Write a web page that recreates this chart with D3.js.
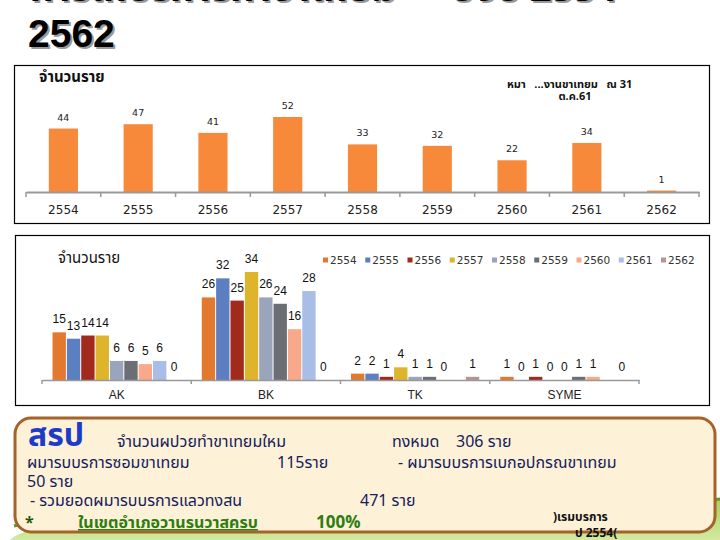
<!DOCTYPE html>
<html>
<head>
<meta charset="utf-8">
<script src="https://cdn.jsdelivr.net/npm/d3@7"></script>
<style>
  body { margin: 0; background: #fff; }
  svg { display: block; }
  .thai { font-family: "Noto Sans Thai", "Tahoma", "Noto Sans", sans-serif; }
</style>
</head>
<body>
<script>
// data
var years = ["2554", "2555", "2556", "2557", "2558", "2559", "2560", "2561", "2562"];
var totalByYear = [44, 47, 41, 52, 33, 32, 22, 34, 1];

var regions = ["AK", "BK", "TK", "SYME"];
var akValues = [15, 13, 14, 14, 6, 6, 5, 6, 0];
var bkValues = [26, 32, 25, 34, 26, 24, 16, 28, 0];
var tkValues = [2, 2, 1, 4, 1, 1, 0, null, 1];
var symeValues = [1, 0, 1, 0, 0, 1, 1, null, 0];
var yearColors = ["#E3782F", "#5B7FC1", "#A12A1C", "#DDB42A", "#9AA5BC",
                  "#6B6F75", "#F9A98B", "#A8BEE6", "#B79494"];

var width = 720, height = 540;

var svg = d3.select("body").append("svg")
    .attr("width", width)
    .attr("height", height);

// bottom green swoosh
var grad = svg.append("defs").append("linearGradient")
    .attr("id", "grn").attr("x1", 0).attr("x2", 0).attr("y1", 0).attr("y2", 1);
grad.append("stop").attr("offset", "0%").attr("stop-color", "#A6CF5A");
grad.append("stop").attr("offset", "100%").attr("stop-color", "#D3EAA0");

svg.append("path")
    .attr("d", "M10,540 C30,522 120,514 360,514 C520,514 650,506 720,498 L720,540 Z")
    .attr("fill", "url(#grn)");
svg.append("path")
    .attr("d", "M14,526 C60,514 160,512 360,514 C520,515 650,507 720,499")
    .attr("fill", "none").attr("stroke", "#5E9A22").attr("stroke-width", 3);

// title (top line is cut by the slide edge)
function shadowText(x, y, txt, size) {
  [["#9a9a9a", 2], ["#000", 0]].forEach(function(s) {
    svg.append("text")
        .attr("class", "thai")
        .attr("x", x + s[1]).attr("y", y + s[1])
        .attr("font-size", size).attr("font-weight", "bold")
        .attr("fill", s[0])
        .text(txt);
  });
}
shadowText(30, 1, "การใหบรการทำขาเทยม", 38);
shadowText(450, 1, "ปงบ 2554 -", 38);
[["#9a9a9a", 2], ["#000", 0]].forEach(function(s) {
  svg.append("text")
      .attr("x", 28 + s[1]).attr("y", 47 + s[1])
      .attr("font-family", "Liberation Sans, Arial, sans-serif")
      .attr("font-size", 39).attr("font-weight", "bold")
      .attr("fill", s[0])
      .text("2562");
});

// ---------- chart 1: total per year ----------
svg.append("rect")
    .attr("x", 14.5).attr("y", 65.5).attr("width", 695).attr("height", 158)
    .attr("fill", "#fff").attr("stroke", "#000").attr("stroke-width", 1.2);

var x1 = d3.scaleBand()
    .domain(years)
    .range([26, 699])
    .paddingInner(0.61)
    .paddingOuter(0.305);

var y1 = d3.scaleLinear()
    .domain([0, d3.max(totalByYear)])
    .range([192, 117]);

var g1 = svg.append("g");

g1.selectAll(".bar1")
    .data(totalByYear)
  .enter().append("rect")
    .attr("class", "bar1")
    .attr("x", function(d, i) { return x1(years[i]); })
    .attr("y", function(d) { return y1(d); })
    .attr("width", x1.bandwidth())
    .attr("height", function(d) { return y1(0) - y1(d); })
    .attr("fill", "#F7893B");

g1.selectAll(".lab1")
    .data(totalByYear)
  .enter().append("text")
    .attr("class", "lab1")
    .attr("x", function(d, i) { return x1(years[i]) + x1.bandwidth() / 2; })
    .attr("y", function(d) { return y1(d) - 8; })
    .attr("text-anchor", "middle")
    .attr("font-family", "DejaVu Sans, sans-serif")
    .attr("font-size", 9.5)
    .attr("fill", "#222")
    .text(function(d) { return d; });

// axis with ticks on band edges
var axis1 = g1.append("g")
    .attr("transform", "translate(0," + y1(0) + ")")
    .call(d3.axisBottom(x1).tickSize(0).tickPadding(13));
axis1.select(".domain").attr("stroke", "#999").attr("stroke-width", 2);
axis1.selectAll("text")
    .attr("font-family", "DejaVu Sans, sans-serif")
    .attr("font-size", 12)
    .attr("fill", "#222");
var edges1 = years.map(function(d) { return x1(d) - x1.step() * x1.paddingInner() / 2; });
edges1.push(x1.range()[1]);
axis1.selectAll(".edge")
    .data(edges1)
  .enter().append("line")
    .attr("x1", function(d) { return d; }).attr("x2", function(d) { return d; })
    .attr("y1", 0).attr("y2", 5)
    .attr("stroke", "#999").attr("stroke-width", 1.5);

svg.append("text")
    .attr("class", "thai")
    .attr("x", 39).attr("y", 82)
    .attr("font-size", 15).attr("font-weight", "bold")
    .attr("fill", "#111")
    .text("จำนวนราย");

svg.append("text")
    .attr("class", "thai")
    .attr("x", 507).attr("y", 88)
    .attr("font-size", 11).attr("font-weight", "bold")
    .attr("fill", "#111")
    .attr("xml:space", "preserve")
    .text("หมา   ...งานขาเทยม   ณ 31");
svg.append("text")
    .attr("class", "thai")
    .attr("x", 575).attr("y", 100)
    .attr("text-anchor", "middle")
    .attr("font-size", 11).attr("font-weight", "bold")
    .attr("fill", "#111")
    .text("ต.ค.61");

// ---------- chart 2: per area per year ----------
svg.append("rect")
    .attr("x", 15.5).attr("y", 235.5).attr("width", 694).attr("height", 170)
    .attr("fill", "#fff").attr("stroke", "#000").attr("stroke-width", 1.2);

var regionValues = [akValues, bkValues, tkValues, symeValues];

var x0 = d3.scaleBand()
    .domain(regions)
    .range([42, 639])
    .paddingInner(0.141)
    .paddingOuter(0.0705);

var xs = d3.scaleBand()
    .domain(years)
    .range([0, x0.bandwidth()])
    .paddingInner(0.07);

var y2 = d3.scaleLinear()
    .domain([0, 34])
    .range([380, 272]);

var g2 = svg.append("g");

var groups = g2.selectAll(".grp")
    .data(regions)
  .enter().append("g")
    .attr("class", "grp")
    .attr("transform", function(d) { return "translate(" + x0(d) + ",0)"; });

groups.selectAll("rect")
    .data(function(d, i) {
      return regionValues[i].map(function(v, j) { return {year: years[j], v: v, c: yearColors[j]}; })
        .filter(function(o) { return o.v !== null; });
    })
  .enter().append("rect")
    .attr("x", function(o) { return xs(o.year); })
    .attr("y", function(o) { return y2(o.v); })
    .attr("width", xs.bandwidth())
    .attr("height", function(o) { return y2(0) - y2(o.v); })
    .attr("fill", function(o) { return o.c; });

groups.selectAll("text")
    .data(function(d, i) {
      return regionValues[i].map(function(v, j) { return {year: years[j], v: v}; })
        .filter(function(o) { return o.v !== null; });
    })
  .enter().append("text")
    .attr("x", function(o) { return xs(o.year) + xs.bandwidth() / 2; })
    .attr("y", function(o) { return y2(o.v) - 9; })
    .attr("text-anchor", "middle")
    .attr("font-family", "Liberation Sans, Arial, sans-serif")
    .attr("font-size", 12)
    .attr("fill", "#111")
    .text(function(o) { return o.v; });

var axis2 = g2.append("g")
    .attr("transform", "translate(0," + y2(0) + ")")
    .call(d3.axisBottom(x0).tickSize(0).tickPadding(10));
axis2.select(".domain").attr("stroke", "#999").attr("stroke-width", 1.5);
axis2.selectAll("text")
    .attr("font-family", "Liberation Sans, Arial, sans-serif")
    .attr("font-size", 12)
    .attr("fill", "#222");
var edges2 = regions.map(function(d) { return x0(d) - x0.step() * x0.paddingInner() / 2; });
edges2.push(x0.range()[1]);
axis2.selectAll(".edge")
    .data(edges2)
  .enter().append("line")
    .attr("x1", function(d) { return d; }).attr("x2", function(d) { return d; })
    .attr("y1", 0).attr("y2", 4)
    .attr("stroke", "#999").attr("stroke-width", 1.5);

svg.append("text")
    .attr("class", "thai")
    .attr("x", 58).attr("y", 263)
    .attr("font-size", 15)
    .attr("fill", "#111")
    .text("จำนวนราย");

// legend
var legendX = d3.scalePoint().domain(years).range([323, 661]);
var leg = svg.append("g").selectAll(".leg")
    .data(years)
  .enter().append("g")
    .attr("transform", function(d) { return "translate(" + legendX(d) + ",260)"; });
leg.append("rect")
    .attr("x", 0).attr("y", -2.5).attr("width", 5).attr("height", 5)
    .attr("fill", function(d, i) { return yearColors[i]; });
leg.append("text")
    .attr("x", 7).attr("y", 4)
    .attr("font-family", "DejaVu Sans, sans-serif")
    .attr("font-size", 10.5)
    .attr("fill", "#333")
    .text(function(d) { return d; });

// ---------- summary box ----------
svg.append("rect")
    .attr("x", 15).attr("y", 418).attr("width", 700).attr("height", 114)
    .attr("rx", 16).attr("ry", 16)
    .attr("fill", "#FDF1D8").attr("stroke", "#A5622B").attr("stroke-width", 3);

function addText(x, y, txt, opts) {
  opts = opts || {};
  return svg.append("text")
      .attr("class", "thai")
      .attr("x", x).attr("y", y)
      .attr("xml:space", "preserve")
      .attr("font-size", opts.size || 16)
      .attr("font-weight", opts.bold ? "bold" : "normal")
      .attr("fill", opts.color || "#14205A")
      .attr("text-decoration", opts.underline ? "underline" : null)
      .text(txt);
}
addText(28, 446, "สรป", {size: 32, bold: true, color: "#1E3BC8"});
addText(117, 447, "จำนวนผปวยทำขาเทยมใหม");
addText(392, 447, "ทงหมด    306 ราย");
addText(27, 468, "ผมารบบรการซอมขาเทยม");
addText(277, 468, "115ราย");
addText(398, 468, "- ผมารบบรการเบกอปกรณขาเทยม");
addText(27, 487, "50 ราย");
addText(30, 506, "- รวมยอดผมารบบรการแลวทงสน");
addText(360, 506, "471 ราย");
addText(25, 528, "*", {bold: true, color: "#1E5A0A"});
addText(78, 528, "ในเขตอำเภอวานรนวาสครบ", {bold: true, color: "#2E7D10", underline: true});
addText(316, 528, "100%", {bold: true, color: "#2E7D10", size: 17});
addText(553, 521, ")เรมบรการ", {size: 12, bold: true, color: "#111"});
addText(575, 537, "ป 2554(", {size: 12, bold: true, color: "#111"});
</script>
</body>
</html>
